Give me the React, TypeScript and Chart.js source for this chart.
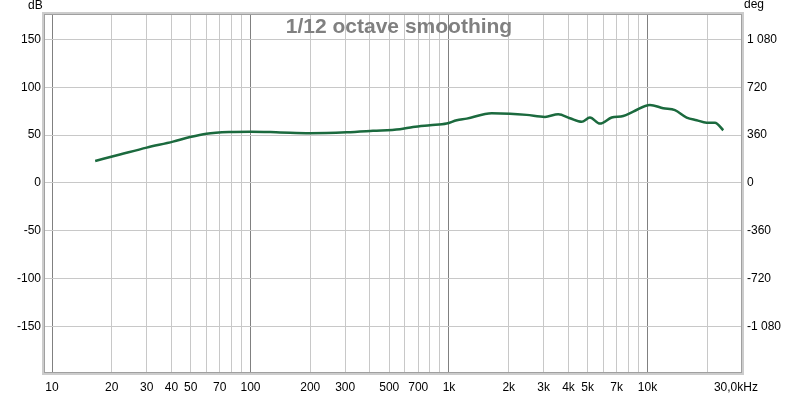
import React, { useEffect, useRef } from "react";
import { Chart, registerables } from "chart.js";

Chart.register(...registerables);

const freqsHz = [16.5, 22, 30, 40.7, 49.6, 60, 79, 100, 141, 199, 305, 414, 566, 659, 802, 973, 1094, 1228, 1641, 2029, 2462, 3045, 3553, 4070, 4661, 5131, 5764, 6601, 7551, 8481, 10292, 12012, 13757, 15760, 17700, 19860, 21880, 24100];
const splDb = [23.0, 29.7, 36.9, 43.2, 48.0, 51.5, 53.3, 53.6, 52.8, 52.0, 52.9, 54.4, 56.1, 58.5, 60.3, 62.0, 65.5, 67.2, 72.9, 72.4, 71.1, 69.0, 71.8, 67.6, 63.8, 68.3, 62.0, 68.3, 70.0, 74.5, 81.5, 78.1, 76.0, 68.3, 65.5, 63.0, 63.0, 55.1];

const xGridValues = [10, 20, 30, 40, 50, 60, 70, 80, 90, 100, 200, 300, 400, 500, 600, 700, 800, 900, 1000, 2000, 3000, 4000, 5000, 6000, 7000, 8000, 9000, 10000, 20000];
const xLabelMap: Record<number, string> = {
  10: "10", 20: "20", 30: "30", 40: "40", 50: "50", 70: "70", 100: "100",
  200: "200", 300: "300", 500: "500", 700: "700", 1000: "1k", 2000: "2k",
  3000: "3k", 4000: "4k", 5000: "5k", 7000: "7k", 10000: "10k",
};
const endLabelValue = 27900;
const endLabel = "30,0kHz";
const decadeValues = [10, 100, 1000, 10000];
const dbTicks = [-150, -100, -50, 0, 50, 100, 150];
const degTicks = [-1080, -720, -360, 0, 360, 720, 1080];

const X_MIN = 9.22;
const X_MAX = 29600;
const Y_MIN = -197.4;
const Y_MAX = 175.4;
const DEG_PER_DB = 7.2;

const FONT = "'Liberation Sans', Arial, sans-serif";

function fmtDeg(v: number): string {
  const s = Math.abs(v).toString();
  const withSpace = s.length > 3 ? s.slice(0, s.length - 3) + " " + s.slice(-3) : s;
  return (v < 0 ? "-" : "") + withSpace;
}

const overlayPlugin = {
  id: "overlay",
  afterDraw(chart: any) {
    const { ctx, chartArea } = chart;
    const { left, top, right, bottom } = chartArea;
    ctx.save();
    // frame
    ctx.strokeStyle = "#cccccc";
    ctx.lineWidth = 3;
    ctx.strokeRect(left - 1.5, top - 1.5, right - left + 3, bottom - top + 3);
    ctx.strokeStyle = "#a0a0a0";
    ctx.lineWidth = 1;
    ctx.strokeRect(left - 0.5, top - 0.5, right - left + 1, bottom - top + 1);
    // title
    ctx.fillStyle = "#808080";
    ctx.font = `bold 21px ${FONT}`;
    ctx.textAlign = "center";
    ctx.textBaseline = "alphabetic";
    ctx.fillText("1/12 octave smoothing", (left + right) / 2 + 6, 33);
    // unit labels
    ctx.fillStyle = "#000";
    ctx.font = `12px ${FONT}`;
    ctx.textAlign = "left";
    ctx.fillText("dB", 28, 9);
    ctx.fillText("deg", 744, 8);
    ctx.restore();
  },
};

export default function App() {
  const ref = useRef<HTMLCanvasElement | null>(null);
  useEffect(() => {
    if (!ref.current) return;
    const data = freqsHz.map((f, i) => ({ x: f, y: splDb[i] }));
    const chart = new Chart(ref.current, {
      type: "line",
      data: {
        datasets: [
          {
            data,
            borderColor: "#1b6a3e",
            borderWidth: 2.5,
            pointRadius: 0,
            fill: false,
            cubicInterpolationMode: "monotone",
            yAxisID: "y",
          },
        ],
      },
      options: {
        responsive: false,
        animation: false,
        layout: { padding: { top: 15, left: 0, right: 0, bottom: 0 } },
        plugins: { legend: { display: false }, tooltip: { enabled: false }, title: { display: false } },
        scales: {
          x: {
            type: "logarithmic",
            min: X_MIN,
            max: X_MAX,
            border: { display: false },
            afterBuildTicks: (scale: any) => {
              scale.ticks = [...xGridValues, endLabelValue].map((v) => ({ value: v }));
            },
            afterFit: (scale: any) => {
              scale.height = 22;
            },
            grid: {
              drawTicks: false,
              color: (c: any) => {
                const v = c.tick ? c.tick.value : 0;
                if (v === endLabelValue) return "rgba(0,0,0,0)";
                return decadeValues.includes(v) ? "#808080" : "#c8c8c8";
              },
              lineWidth: 1,
            },
            ticks: {
              autoSkip: false,
              maxRotation: 0,
              minRotation: 0,
              padding: 8,
              color: "#000",
              font: { family: FONT, size: 12 },
              callback: (v: any) => {
                const n = Number(v);
                if (n === endLabelValue) return endLabel;
                return xLabelMap[n] ?? "";
              },
            },
          },
          y: {
            type: "linear",
            position: "left",
            min: Y_MIN,
            max: Y_MAX,
            border: { display: false },
            afterBuildTicks: (scale: any) => {
              scale.ticks = dbTicks.map((v) => ({ value: v }));
            },
            afterFit: (scale: any) => {
              scale.width = 45;
            },
            grid: { drawTicks: false, color: "#c8c8c8", lineWidth: 1 },
            ticks: {
              padding: 4,
              color: "#000",
              font: { family: FONT, size: 12 },
              callback: (v: any) => String(v),
            },
          },
          y2: {
            type: "linear",
            position: "right",
            min: Y_MIN * DEG_PER_DB,
            max: Y_MAX * DEG_PER_DB,
            border: { display: false },
            afterBuildTicks: (scale: any) => {
              scale.ticks = degTicks.map((v) => ({ value: v }));
            },
            afterFit: (scale: any) => {
              scale.width = 59;
            },
            grid: { display: false, drawTicks: false },
            ticks: {
              padding: 6,
              color: "#000",
              font: { family: FONT, size: 12 },
              callback: (v: any) => fmtDeg(Number(v)),
            },
          },
        },
      },
      plugins: [overlayPlugin],
    } as any);
    return () => chart.destroy();
  }, []);
  return (
    <div style={{ position: "absolute", left: 0, top: 0, width: 800, height: 394, background: "#fff" }}>
      <canvas ref={ref} width={800} height={394} style={{ display: "block" }} />
    </div>
  );
}
